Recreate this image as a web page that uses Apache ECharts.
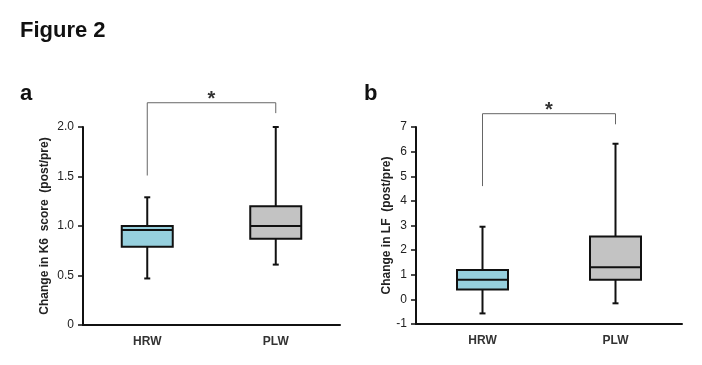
<!DOCTYPE html>
<html>
<head>
<meta charset="utf-8">
<script src="https://cdn.jsdelivr.net/npm/echarts@6/dist/echarts.min.js"></script>
<style>
html,body{margin:0;padding:0;background:#fff;}
#main{width:702px;height:365px;}
</style>
</head>
<body>
<div id="main"></div>
<script>
// ---- Data ----
var categories = ['HRW', 'PLW'];
// [min, Q1, median, Q3, max]
var boxA = [[0.47, 0.79, 0.96, 1.00, 1.29], [0.61, 0.87, 1.00, 1.20, 2.00]];
var boxB = [[-0.57, 0.40, 0.80, 1.19, 2.95], [-0.16, 0.80, 1.30, 2.55, 6.32]];
// significance bracket: [barY, leftLegBottom, rightLegBottom]
var bracketA = [2.245, 1.51, 2.14];
var bracketB = [7.54, 4.60, 7.11];
var yTicksA = [0, 0.5, 1.0, 1.5, 2.0];
var yTicksB = [-1, 0, 1, 2, 3, 4, 5, 6, 7];
var colors = ['#96d0de', '#c3c3c3'];
var yNameA = 'Change in K6  score  (post/pre)';
var yNameB = 'Change in LF  (post/pre)';

var FONT = '"Liberation Sans", Arial, sans-serif';

function boxRender(params, api) {
  var idx = api.value(0);
  var vals = [api.value(1), api.value(2), api.value(3), api.value(4), api.value(5)];
  var pMin = api.coord([idx, vals[0]]);
  var pQ1 = api.coord([idx, vals[1]]);
  var pMed = api.coord([idx, vals[2]]);
  var pQ3 = api.coord([idx, vals[3]]);
  var pMax = api.coord([idx, vals[4]]);
  var x = pMin[0];
  var hw = 25.5, cw = 3;
  var stroke = {stroke: '#111', lineWidth: 2};
  return {
    type: 'group',
    children: [
      {type: 'line', shape: {x1: x, y1: pMax[1], x2: x, y2: pQ3[1]}, style: stroke},
      {type: 'line', shape: {x1: x, y1: pQ1[1], x2: x, y2: pMin[1]}, style: stroke},
      {type: 'line', shape: {x1: x - cw, y1: pMax[1], x2: x + cw, y2: pMax[1]}, style: stroke},
      {type: 'line', shape: {x1: x - cw, y1: pMin[1], x2: x + cw, y2: pMin[1]}, style: stroke},
      {type: 'rect', shape: {x: x - hw, y: pQ3[1], width: 2 * hw, height: pQ1[1] - pQ3[1]},
        style: {fill: colors[idx], stroke: '#111', lineWidth: 2}},
      {type: 'line', shape: {x1: x - hw, y1: pMed[1], x2: x + hw, y2: pMed[1]}, style: stroke}
    ]
  };
}

function bracketRender(params, api) {
  var top = api.value(0), lb = api.value(1), rb = api.value(2);
  var pL = api.coord([0, top]);
  var pR = api.coord([1, top]);
  var pLb = api.coord([0, lb]);
  var pRb = api.coord([1, rb]);
  var st = {stroke: '#666', lineWidth: 1};
  return {
    type: 'group',
    children: [
      {type: 'polyline', shape: {points: [[pLb[0], pLb[1]], [pL[0], pL[1]], [pR[0], pR[1]], [pRb[0], pRb[1]]]}, style: Object.assign({fill: null}, st)},
      {type: 'text', x: (pL[0] + pR[0]) / 2, y: pL[1] + 7,
        style: {text: '*', fill: '#333', font: 'bold 20px ' + FONT, align: 'center', verticalAlign: 'bottom'}}
    ]
  };
}

function boxData(arr) {
  return arr.map(function (b, i) { return [i].concat(b); });
}

function fmtA(v) { return v === 0 ? '0' : v.toFixed(1); }

var chart = echarts.init(document.getElementById('main'), null, {renderer: 'canvas'});
var option = {
  backgroundColor: '#fff',
  animation: false,
  title: [
    {text: 'Figure 2', left: 20, top: 20, padding: 0, textStyle: {fontFamily: FONT, fontSize: 22, fontWeight: 'bold', color: '#111'}},
    {text: 'a', left: 20, top: 83, padding: 0, textStyle: {fontFamily: FONT, fontSize: 22, fontWeight: 'bold', color: '#111'}},
    {text: 'b', left: 364, top: 83, padding: 0, textStyle: {fontFamily: FONT, fontSize: 22, fontWeight: 'bold', color: '#111'}}
  ],
  grid: [
    {left: 83, right: 362, top: 127, bottom: 40},
    {left: 416, right: 20, top: 127, bottom: 41}
  ],
  xAxis: [0, 1].map(function (g) {
    return {
      type: 'category', gridIndex: g, data: categories, boundaryGap: true,
      axisLine: {onZero: false, lineStyle: {color: '#111', width: 2}},
      axisTick: {show: false},
      axisLabel: {fontFamily: FONT, fontSize: 12, fontWeight: 'bold', color: '#333', margin: 11},
      splitLine: {show: false}
    };
  }),
  yAxis: [
    {
      type: 'value', gridIndex: 0, min: yTicksA[0], max: yTicksA[yTicksA.length - 1], interval: 0.5,
      name: yNameA, nameLocation: 'middle', nameGap: 32, nameRotate: 90,
      nameTextStyle: {fontFamily: FONT, fontSize: 12, fontWeight: 'bold', color: '#222'},
      axisLine: {show: true, onZero: false, lineStyle: {color: '#111', width: 2}},
      axisTick: {show: true, length: 5, lineStyle: {color: '#111', width: 1.5}},
      axisLabel: {fontFamily: FONT, fontSize: 12, color: '#222', margin: 9, formatter: fmtA},
      splitLine: {show: false}
    },
    {
      type: 'value', gridIndex: 1, min: yTicksB[0], max: yTicksB[yTicksB.length - 1], interval: 1,
      name: yNameB, nameLocation: 'middle', nameGap: 17, nameRotate: 90,
      nameTextStyle: {fontFamily: FONT, fontSize: 12, fontWeight: 'bold', color: '#222'},
      axisLine: {show: true, onZero: false, lineStyle: {color: '#111', width: 2}},
      axisTick: {show: true, length: 5, lineStyle: {color: '#111', width: 1.5}},
      axisLabel: {fontFamily: FONT, fontSize: 12, color: '#222', margin: 9},
      splitLine: {show: false}
    }
  ],
  series: [
    {type: 'custom', xAxisIndex: 0, yAxisIndex: 0, renderItem: boxRender, data: boxData(boxA), encode: {x: 0, y: [1, 2, 3, 4, 5]}, z: 3},
    {type: 'custom', xAxisIndex: 1, yAxisIndex: 1, renderItem: boxRender, data: boxData(boxB), encode: {x: 0, y: [1, 2, 3, 4, 5]}, z: 3},
    {type: 'custom', xAxisIndex: 0, yAxisIndex: 0, renderItem: bracketRender, data: [bracketA], clip: false, encode: {y: [0, 1, 2]}, z: 2},
    {type: 'custom', xAxisIndex: 1, yAxisIndex: 1, renderItem: bracketRender, data: [bracketB], clip: false, encode: {y: [0, 1, 2]}, z: 2}
  ]
};
chart.setOption(option);
</script>
</body>
</html>
